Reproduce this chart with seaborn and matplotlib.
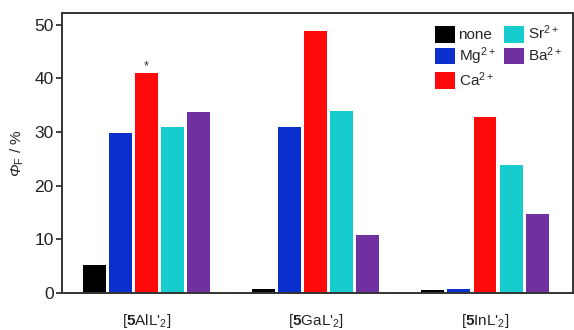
import matplotlib
matplotlib.use("Agg")
import matplotlib.pyplot as plt
import seaborn as sns
import pandas as pd

complexes = ["[$\\mathbf{5}$AlL'$_2$]", "[$\\mathbf{5}$GaL'$_2$]", "[$\\mathbf{5}$InL'$_2$]"]
ions = ["none", "Mg$^{2+}$", "Ca$^{2+}$", "Sr$^{2+}$", "Ba$^{2+}$"]
val_al = [5.3, 29.9, 41.0, 31.0, 33.8]
val_ga = [0.8, 30.9, 48.9, 33.9, 10.9]
val_in = [0.5, 0.7, 32.9, 23.9, 14.8]
colors = ["#000000", "#0a2fcc", "#ff0a0a", "#16cccc", "#7030a0"]

rows = []
for c, vals in zip(complexes, [val_al, val_ga, val_in]):
    for ion, v in zip(ions, vals):
        rows.append({"complex": c, "ion": ion, "phi": v})
df = pd.DataFrame(rows)

sns.set_theme(style="ticks")
plt.rcParams["font.family"] = ["Liberation Sans", "DejaVu Sans"]
plt.rcParams["mathtext.fontset"] = "custom"
plt.rcParams["mathtext.rm"] = "Liberation Sans"
plt.rcParams["mathtext.it"] = "Liberation Sans:italic"
plt.rcParams["mathtext.bf"] = "Liberation Sans:bold"

fig = plt.figure(figsize=(5.74, 3.30), dpi=100)
ax = fig.add_axes([62/574, 1 - 293/330, (573-62)/574, (293-13)/330])
sns.barplot(data=df, x="complex", y="phi", hue="ion", hue_order=ions,
            palette=colors, width=0.77, gap=0.12, saturation=1, ax=ax,
            edgecolor="none", linewidth=0)

ax.set_xlim(-0.5, 2.52)
ax.set_ylim(0, 52.2)
ax.set_yticks([0, 10, 20, 30, 40, 50])
ax.tick_params(axis="y", labelsize=12.5, length=4, width=1.2, direction="out", colors="#222222", pad=2)
ax.tick_params(axis="x", labelsize=11, length=0, pad=14, colors="#222222")
for s in ax.spines.values():
    s.set_linewidth(1.4)
    s.set_color("#333333")
    s.set_visible(True)
ax.set_xlabel("")
ax.set_ylabel("Φ$_{\\mathrm{F}}\\ \\mathrm{/\\ \\%}$", fontsize=11, labelpad=6,
              fontstyle="italic")

# asterisk above Ca bar of first complex
ca_bar = ax.containers[2][0]
ax.text(ca_bar.get_x() + ca_bar.get_width() / 2, ca_bar.get_height() + 0.1, "*",
        ha="center", va="bottom", fontsize=9)

leg = ax.legend(ncol=2, loc="upper right", frameon=False, fontsize=11,
                handlelength=1.3, handleheight=1.3, handletextpad=0.25,
                columnspacing=0.6, labelspacing=0.2, borderaxespad=0.3)

fig.savefig("out.png", dpi=100)
